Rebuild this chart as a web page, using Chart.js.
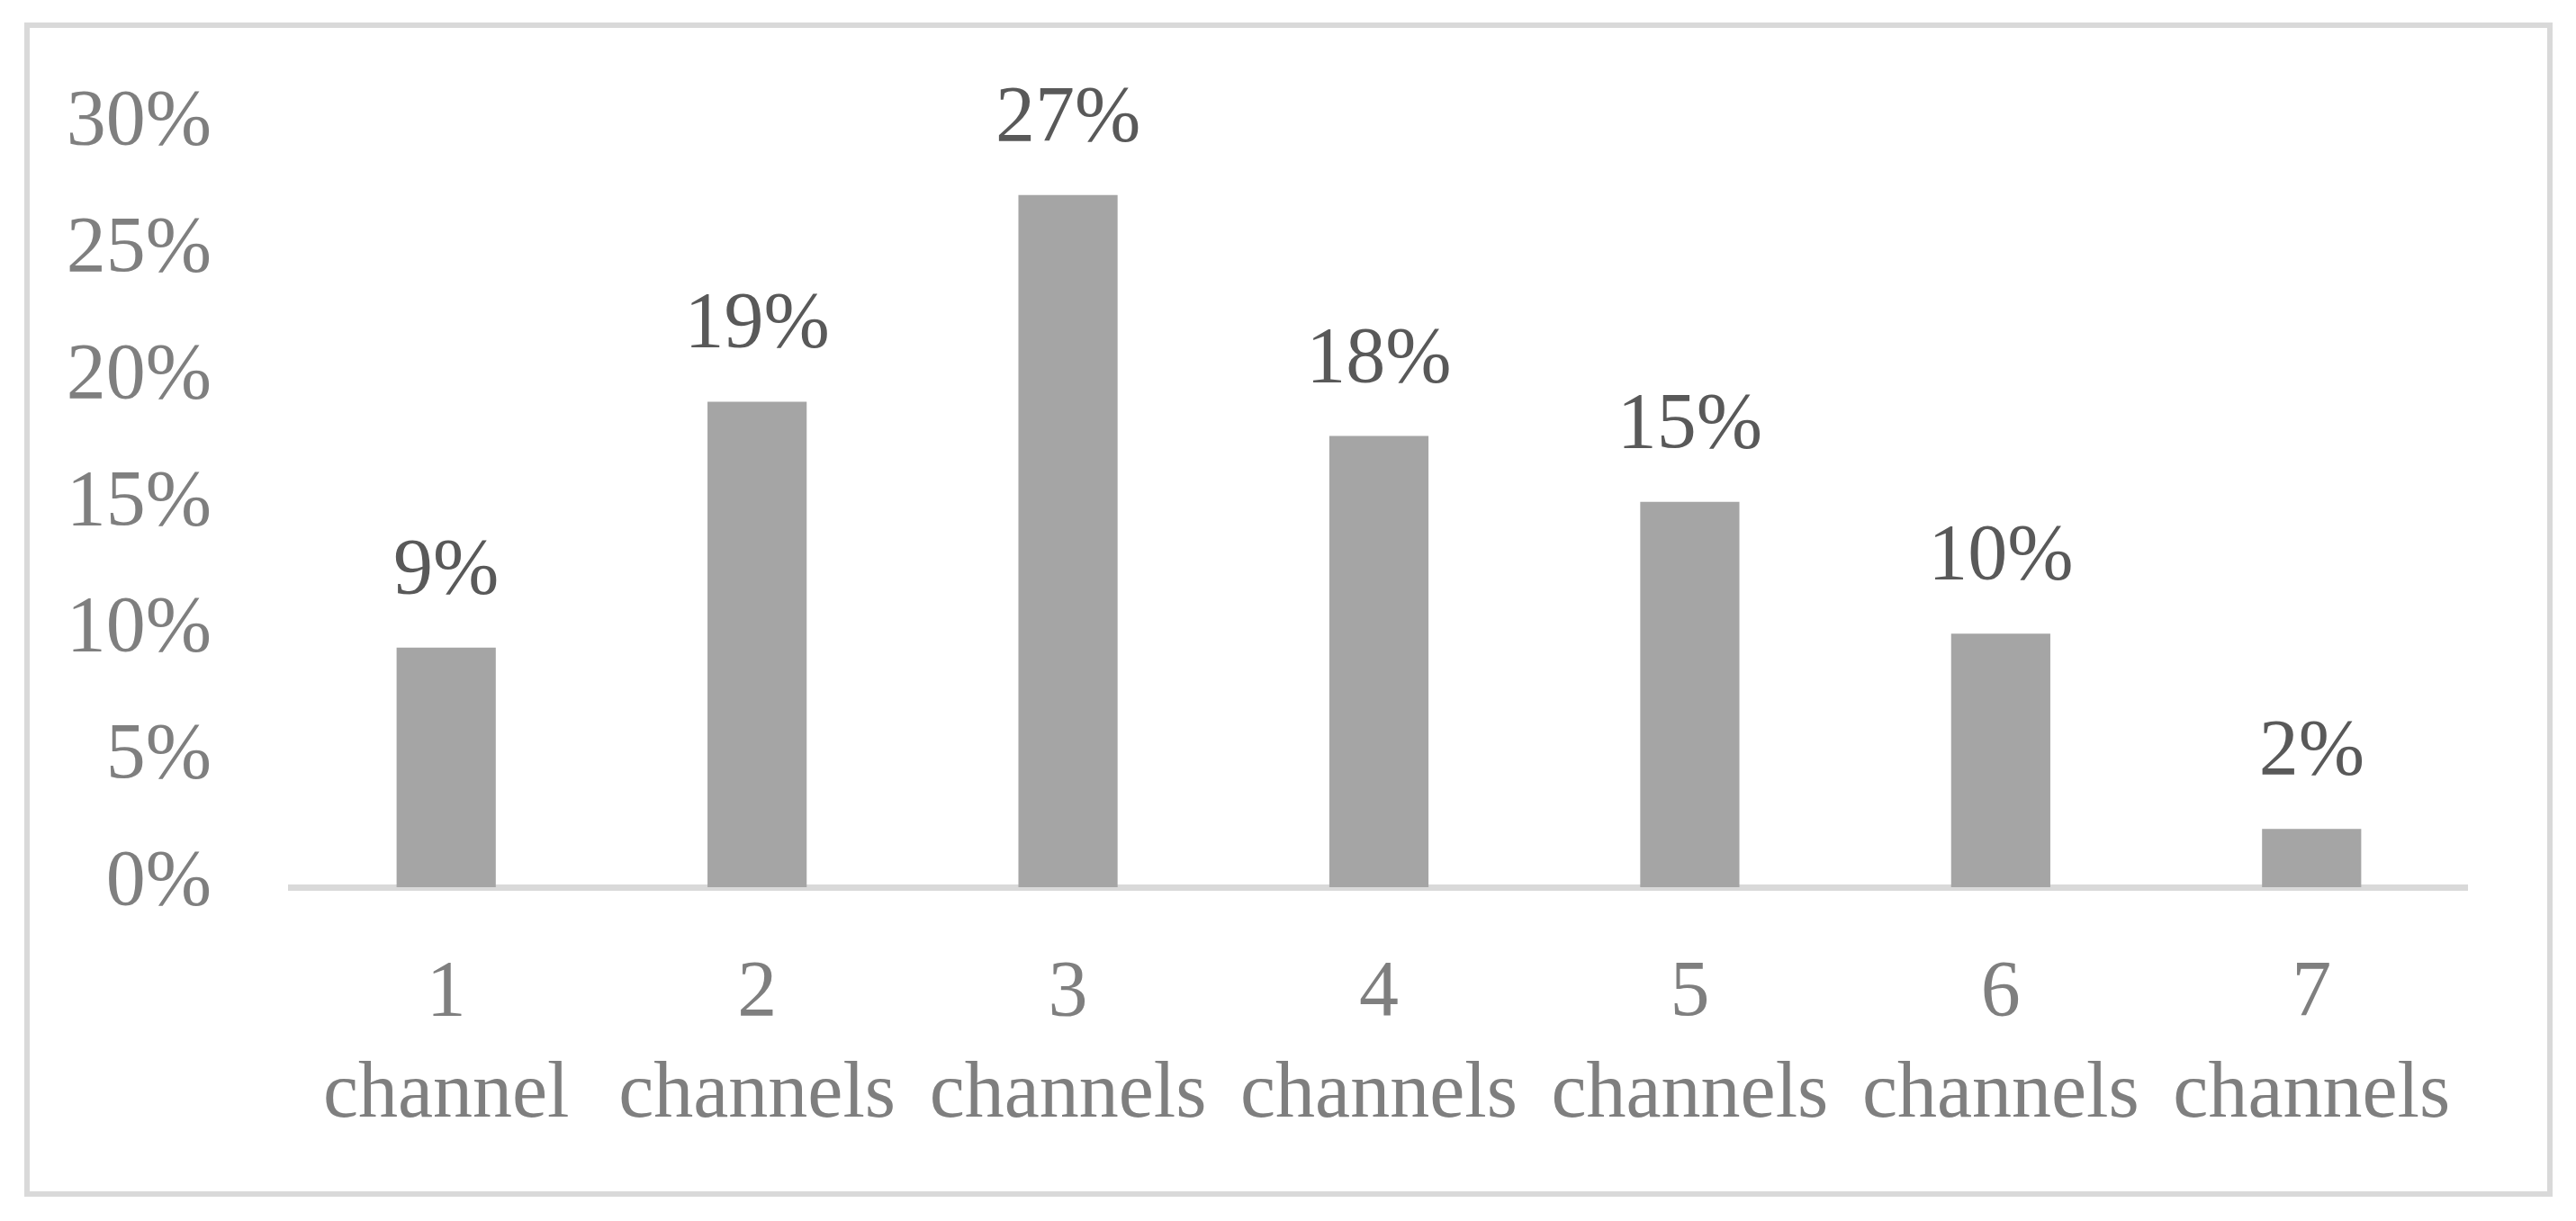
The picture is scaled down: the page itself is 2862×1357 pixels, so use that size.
<!DOCTYPE html>
<html>
<head>
<meta charset="utf-8">
<script src="https://cdn.jsdelivr.net/npm/chart.js@4"></script>
<style>
  html, body { margin: 0; padding: 0; background: #fff; }
  #wrap { width: 2862px; height: 1357px; }
</style>
</head>
<body>
<div id="wrap"><canvas id="chart" width="2862" height="1357"></canvas></div>
<script>
// Chart data
const channelCounts = ['1', '2', '3', '4', '5', '6', '7'];
const channelWords = ['channel', 'channels', 'channels', 'channels', 'channels', 'channels', 'channels'];
const shareValues = [9.45, 19.15, 27.3, 17.8, 15.2, 10.0, 2.3];
const yTicks = [0, 5, 10, 15, 20, 25, 30];

const FONT = "'Liberation Serif', 'Times New Roman', serif";

// Frame around the whole figure
const framePlugin = {
    id: 'frame',
    beforeDraw(chart) {
        const ctx = chart.ctx;
        ctx.save();
        ctx.fillStyle = '#ffffff';
        ctx.fillRect(0, 0, chart.width, chart.height);
        ctx.strokeStyle = '#d9d9d9';
        ctx.lineWidth = 6;
        ctx.strokeRect(30, 28, 2803, 1299);
        ctx.restore();
    }
};

// Value labels above each bar
const valueLabelPlugin = {
    id: 'valueLabels',
    afterDatasetsDraw(chart) {
        const ctx = chart.ctx;
        const meta = chart.getDatasetMeta(0);
        ctx.save();
        ctx.font = '88px ' + FONT;
        ctx.fillStyle = '#595959';
        ctx.textAlign = 'center';
        ctx.textBaseline = 'alphabetic';
        meta.data.forEach((bar, i) => {
            ctx.fillText(Math.round(shareValues[i]) + '%', bar.x, bar.y - 61);
        });
        ctx.restore();
    }
};

new Chart(document.getElementById('chart').getContext('2d'), {
    type: 'bar',
    data: {
        labels: channelCounts.map((n, i) => [n, channelWords[i]]),
        datasets: [{
            data: shareValues,
            backgroundColor: '#a5a5a5',
            categoryPercentage: 1,
            barPercentage: 0.319
        }]
    },
    options: {
        responsive: false,
        animation: false,
        devicePixelRatio: 1,
        layout: {
            padding: { left: 0, right: 121, top: 128, bottom: 0 }
        },
        plugins: {
            legend: { display: false },
            tooltip: { enabled: false }
        },
        scales: {
            x: {
                grid: { display: false, drawTicks: false },
                border: { display: true, color: '#d9d9d9', width: 7 },
                ticks: {
                    color: '#7f7f7f',
                    font: { family: FONT, size: 88, lineHeight: 1.28 },
                    padding: 63,
                    maxRotation: 0,
                    autoSkip: false
                },
                afterFit(scale) { scale.height = 371; }
            },
            y: {
                min: 0,
                max: 30,
                grid: { display: false, drawTicks: false },
                border: { display: false },
                afterBuildTicks(scale) {
                    scale.ticks = yTicks.map(v => ({ value: v }));
                },
                ticks: {
                    color: '#7f7f7f',
                    font: { family: FONT, size: 88 },
                    padding: 88,
                    labelOffset: -4,
                    callback: v => v + '%'
                },
                afterFit(scale) { scale.width = 323; }
            }
        }
    },
    plugins: [framePlugin, valueLabelPlugin]
});
</script>
</body>
</html>
